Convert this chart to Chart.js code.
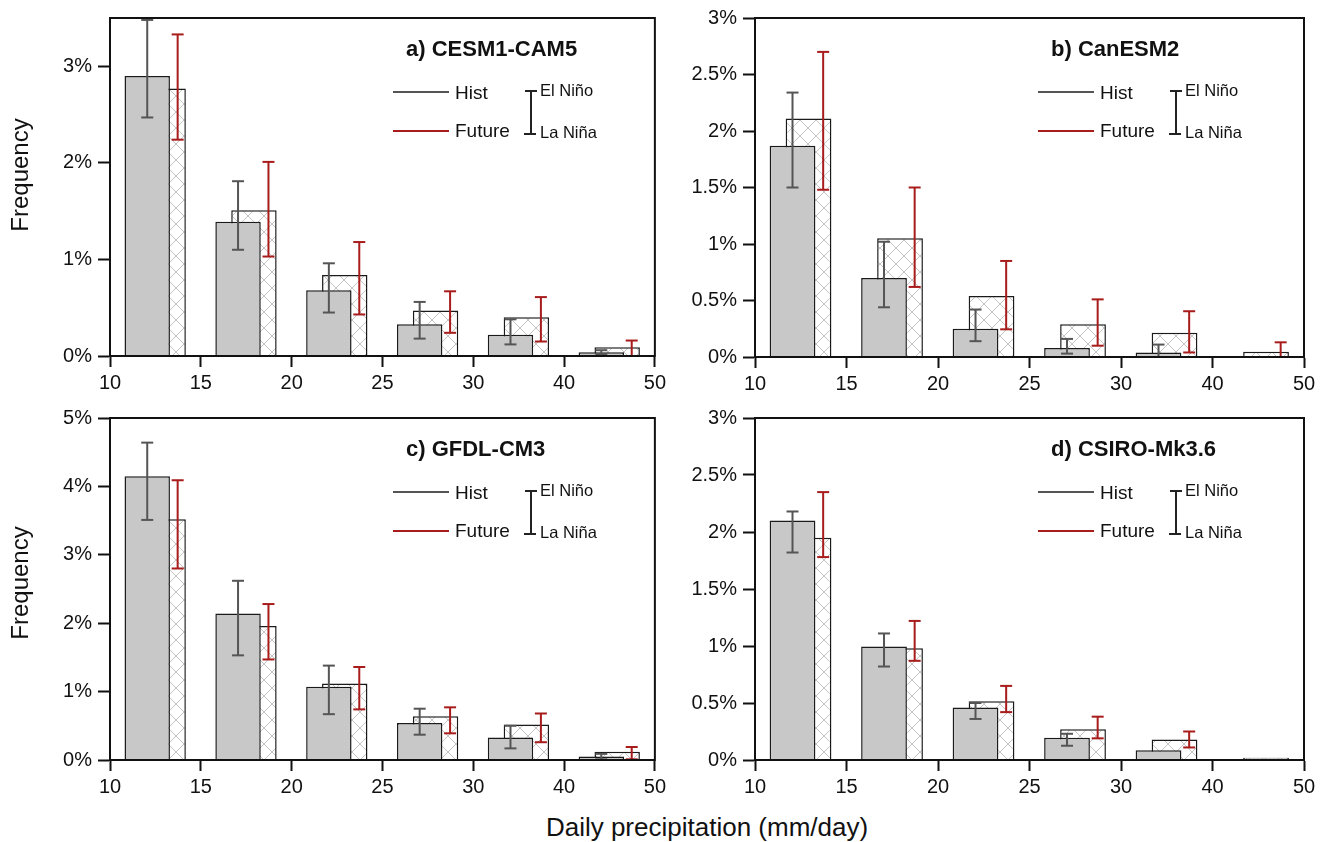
<!DOCTYPE html>
<html>
<head>
<meta charset="utf-8">
<script src="https://cdn.jsdelivr.net/npm/chart.js"></script>
<style>
  body { margin: 0; background: #fff; font-family: "Liberation Sans", Arial, sans-serif; }
  #page { position: relative; width: 1324px; height: 842px; overflow: hidden; background: #fff; }
  .panel { position: absolute; }
  .txt { position: absolute; white-space: nowrap; color: #111; }
  .ln { position: absolute; height: 0; }
</style>
</head>
<body>
<div id="page"></div>
<script>
// bin edges shown on the x axis (mm/day)
const binTicks = ['10', '15', '20', '25', '30', '40', '50'];

// a) CESM1-CAM5  (frequency, %)
const histA   = [2.90, 1.39, 0.68, 0.33, 0.22, 0.04];
const futA    = [2.77, 1.51, 0.84, 0.47, 0.40, 0.09];
const histHiA = [3.48, 1.81, 0.96, 0.56, 0.38, 0.06];
const histLoA = [2.47, 1.10, 0.45, 0.18, 0.12, 0.02];
const futHiA  = [3.33, 2.01, 1.18, 0.67, 0.61, 0.16];
const futLoA  = [2.24, 1.03, 0.43, 0.24, 0.15, 0.00];

// b) CanESM2
const histB   = [1.87, 0.70, 0.25, 0.08, 0.04, null];
const futB    = [2.11, 1.05, 0.54, 0.29, 0.215, 0.046];
const histHiB = [2.34, 1.02, 0.42, 0.16, 0.11, null];
const histLoB = [1.50, 0.44, 0.14, 0.03, 0.00, null];
const futHiB  = [2.70, 1.50, 0.85, 0.51, 0.405, 0.13];
const futLoB  = [1.48, 0.62, 0.245, 0.10, 0.04, 0.00];

// c) GFDL-CM3
const histC   = [4.15, 2.14, 1.07, 0.54, 0.33, 0.05];
const futC    = [3.52, 1.96, 1.12, 0.64, 0.52, 0.12];
const histHiC = [4.64, 2.62, 1.38, 0.75, 0.50, 0.09];
const histLoC = [3.51, 1.53, 0.67, 0.37, 0.17, 0.01];
const futHiC  = [4.09, 2.28, 1.36, 0.77, 0.68, 0.19];
const futLoC  = [2.80, 1.47, 0.74, 0.39, 0.26, 0.01];

// d) CSIRO-Mk3.6
const histD   = [2.10, 0.995, 0.46, 0.195, 0.085, null];
const futD    = [1.95, 0.98, 0.515, 0.27, 0.18, 0.02];
const histHiD = [2.18, 1.11, 0.50, 0.23, null, null];
const histLoD = [1.82, 0.82, 0.36, 0.125, null, null];
const futHiD  = [2.35, 1.22, 0.65, 0.38, 0.25, null];
const futLoD  = [1.78, 0.87, 0.42, 0.19, 0.11, null];

// where inside each bin the bars / error bars sit
const HIST_OFF = 0.41;
const FUT_OFF = 0.585;
const FUT_ERR_OFF = 0.745;

const GRAY = '#c8c8c8';
const EDGE = '#1a1a1a';
const HIST_ERR = '#555555';
const FUT_ERR = '#a81c1c';

Chart.defaults.font.family = '"Liberation Sans", Arial, sans-serif';
Chart.defaults.color = '#111';

function makeHatch() {
  const c = document.createElement('canvas');
  c.width = 16; c.height = 16;
  const g = c.getContext('2d');
  g.fillStyle = '#fff';
  g.fillRect(0, 0, 16, 16);
  g.strokeStyle = '#c4c4c4';
  g.lineWidth = 1;
  g.beginPath();
  g.moveTo(0, 0); g.lineTo(16, 16);
  g.moveTo(16, 0); g.lineTo(0, 16);
  g.stroke();
  return g.createPattern(c, 'repeat');
}
const hatch = makeHatch();

// draws the box round the plot area
const framePlugin = {
  id: 'frame',
  afterDraw(chart) {
    const a = chart.chartArea, ctx = chart.ctx;
    ctx.save();
    ctx.strokeStyle = '#111';
    ctx.lineWidth = 2;
    ctx.strokeRect(a.left, a.top, a.right - a.left, a.bottom - a.top);
    ctx.restore();
  }
};

function errData(hi, lo, off) {
  const pts = [];
  hi.forEach((h, i) => {
    if (h == null) return;
    pts.push({ x: i + off, y: lo[i] }, { x: i + off, y: h }, { x: i + off, y: null });
  });
  return pts;
}

function errSet(hi, lo, off, color) {
  return {
    type: 'line',
    xAxisID: 'x',
    data: errData(hi, lo, off),
    borderColor: color,
    borderWidth: 2,
    spanGaps: false,
    pointStyle: 'line',
    pointRadius: 6,
    pointBorderWidth: 2,
    pointBorderColor: color,
    pointBackgroundColor: color,
    order: 0
  };
}

function fmtPct(v) {
  return (Math.round(v * 10) / 10) + '%';
}

function makePanel(p) {
  const page = document.getElementById('page');
  const box = document.createElement('div');
  box.className = 'panel';
  box.style.left = p.left + 'px';
  box.style.top = p.top + 'px';
  box.style.width = p.width + 'px';
  box.style.height = p.height + 'px';
  const cv = document.createElement('canvas');
  box.appendChild(cv);
  page.appendChild(box);

  const chart = new Chart(cv, {
    type: 'bar',
    data: {
      datasets: [
        {
          label: 'Future',
          xAxisID: 'x2',
          data: p.fut.map((v, i) => ({ x: i + FUT_OFF, y: v })),
          backgroundColor: hatch,
          borderColor: EDGE,
          borderWidth: 1.5,
          grouped: false,
          barPercentage: 0.5,
          categoryPercentage: 1,
          order: 2
        },
        {
          label: 'Hist',
          xAxisID: 'x',
          data: p.hist.map((v, i) => ({ x: i + HIST_OFF, y: v })),
          backgroundColor: GRAY,
          borderColor: EDGE,
          borderWidth: 1.5,
          grouped: false,
          barPercentage: 0.5,
          categoryPercentage: 1,
          order: 1
        },
        errSet(p.histHi, p.histLo, HIST_OFF, HIST_ERR),
        errSet(p.futHi, p.futLo, FUT_ERR_OFF, FUT_ERR)
      ]
    },
    options: {
      responsive: true,
      maintainAspectRatio: false,
      animation: false,
      layout: { padding: { top: p.padTop, right: p.padRight, left: 0, bottom: 0 } },
      plugins: { legend: { display: false }, tooltip: { enabled: false } },
      scales: {
        x: {
          type: 'linear',
          min: 0,
          max: 6,
          offset: false,
          afterFit: s => { s.height = p.xHeight; },
          ticks: {
            stepSize: 1,
            autoSkip: false,
            maxRotation: 0,
            padding: 4,
            font: { size: 20 },
            callback: v => binTicks[v]
          },
          grid: { offset: false, drawOnChartArea: false, drawTicks: true, tickLength: 11, tickColor: '#111', tickWidth: 2 },
          border: { display: true, color: '#111', width: 2 }
        },
        x2: {
          type: 'linear',
          min: 0,
          max: 6,
          offset: false,
          display: false,
          ticks: { stepSize: 1 }
        },
        y: {
          min: 0,
          max: p.yMax,
          afterFit: s => { s.width = p.yWidth; },
          ticks: {
            stepSize: p.yStep,
            includeBounds: false,
            padding: 6,
            font: { size: 20 },
            callback: v => fmtPct(v)
          },
          grid: { drawOnChartArea: false, drawTicks: true, tickLength: 12, tickColor: '#111', tickWidth: 2 },
          border: { display: true, color: '#111', width: 2 }
        }
      }
    },
    plugins: [framePlugin]
  });

  addOverlay(chart, p);
  return chart;
}

function put(html, cls, x, y, css) {
  const d = document.createElement('div');
  d.className = cls;
  d.style.left = x + 'px';
  d.style.top = y + 'px';
  if (html) d.textContent = html;
  Object.assign(d.style, css || {});
  document.getElementById('page').appendChild(d);
  return d;
}

// panel title and the Hist/Future + El Niño/La Niña key
function addOverlay(chart, p) {
  const a = chart.chartArea;
  const ox = p.left + a.left, oy = p.top + a.top;
  put(p.title, 'txt', ox + 296, oy + 18, { font: 'bold 22px "Liberation Sans", Arial, sans-serif', lineHeight: '26px' });

  put('', 'ln', ox + 283, oy + 73, { width: '56px', borderTop: '2px solid ' + HIST_ERR });
  put('Hist', 'txt', ox + 345, oy + 63, { fontSize: '19px', lineHeight: '24px' });
  put('', 'ln', ox + 283, oy + 111.5, { width: '56px', borderTop: '2px solid ' + FUT_ERR });
  put('Future', 'txt', ox + 345, oy + 101, { fontSize: '19px', lineHeight: '24px' });

  put('', 'ln', ox + 420, oy + 73, { height: '43px', borderLeft: '2px solid #222' });
  put('', 'ln', ox + 415, oy + 72, { width: '12px', borderTop: '2px solid #222' });
  put('', 'ln', ox + 414, oy + 115, { width: '12px', borderTop: '2px solid #222' });
  put('El Niño', 'txt', ox + 430, oy + 62, { fontSize: '16.5px', lineHeight: '20px' });
  put('La Niña', 'txt', ox + 430, oy + 104, { fontSize: '16.5px', lineHeight: '20px' });
}

makePanel({
  title: 'a) CESM1-CAM5', left: 0, top: 0, width: 670, height: 400,
  padTop: 14, padRight: 12, yWidth: 110, xHeight: 44, yMax: 3.5, yStep: 1,
  hist: histA, fut: futA, histHi: histHiA, histLo: histLoA, futHi: futHiA, futLo: futLoA
});
makePanel({
  title: 'b) CanESM2', left: 664, top: 0, width: 660, height: 400,
  padTop: 14, padRight: 20, yWidth: 91, xHeight: 43, yMax: 3, yStep: 0.5,
  hist: histB, fut: futB, histHi: histHiB, histLo: histLoB, futHi: futHiB, futLo: futLoB
});
makePanel({
  title: 'c) GFDL-CM3', left: 0, top: 400, width: 670, height: 400,
  padTop: 17, padRight: 12, yWidth: 110, xHeight: 40, yMax: 5, yStep: 1,
  hist: histC, fut: futC, histHi: histHiC, histLo: histLoC, futHi: futHiC, futLo: futLoC
});
makePanel({
  title: 'd) CSIRO-Mk3.6', left: 664, top: 400, width: 660, height: 400,
  padTop: 17, padRight: 20, yWidth: 91, xHeight: 40, yMax: 3, yStep: 0.5,
  hist: histD, fut: futD, histHi: histHiD, histLo: histLoD, futHi: futHiD, futLo: futLoD
});

// shared axis titles
const rot = { fontSize: '24px', lineHeight: '28px', transform: 'translate(-50%, -50%) rotate(-90deg)' };
put('Frequency', 'txt', 20, 175, rot);
put('Frequency', 'txt', 20, 583, rot);
put('Daily precipitation (mm/day)', 'txt', 707, 827, { fontSize: '26px', lineHeight: '30px', transform: 'translate(-50%, -50%)' });
</script>
</body>
</html>
